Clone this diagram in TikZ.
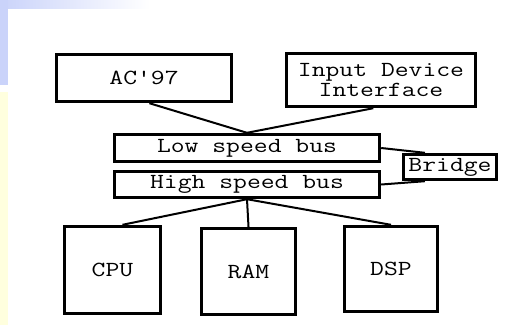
\documentclass[tikz,border=0pt]{standalone}
\usepackage{graphicx}
\usetikzlibrary{calc}
\definecolor{bgblue}{HTML}{CAD3FA}
\definecolor{bgyellow}{HTML}{FFFFDE}
\newcommand{\widetxt}[1]{\scalebox{1.25}[1]{#1}}
\begin{document}
\begin{tikzpicture}[x=1pt,y=-1pt,
  box/.style={draw=black,line width=3.4pt,rectangle,inner sep=0pt,
    font=\ttfamily\fontsize{21.5}{20}\selectfont,align=center},
  link/.style={draw=black,line width=2pt}]
\useasboundingbox (0,0) rectangle (508,325);
% background
\fill[white] (0,0) rectangle (508,325);
\shade[left color=bgblue,right color=white] (0,0) rectangle (150,8);
\fill[bgblue] (0,0) rectangle (8,85);
\fill[bgyellow] (0,92) rectangle (8,325);
\fill[white] (8,9) rectangle (508,325);
% nodes
\node[box,minimum width=175pt,minimum height=47pt] (ac) at (144,78) {\widetxt{AC'97}};
\node[box,minimum width=189pt,minimum height=53pt] (inp) at (381,80) {\widetxt{Input Device}\\\widetxt{Interface}};
\node[box,minimum width=265pt,minimum height=27pt] (low) at (247,148) {\widetxt{Low speed bus}};
\node[box,minimum width=265pt,minimum height=26pt] (high) at (247,184.5) {\widetxt{High speed bus}};
\node[box,minimum width=93pt,minimum height=25pt] (br) at (450,167) {\widetxt{Bridge}};
\node[box,minimum width=96pt,minimum height=87pt] (cpu) at (112.5,270) {\widetxt{CPU}};
\node[box,minimum width=94pt,minimum height=86pt] (ram) at (248.5,271.5) {\widetxt{RAM}};
\node[box,minimum width=93pt,minimum height=85pt] (dsp) at (391,269) {\widetxt{DSP}};
% connectors
\draw[link] ($(ac.south west)!0.53!(ac.south east)$) -- (low.north);
\draw[link] ($(inp.south west)!0.46!(inp.south east)$) -- (low.north);
\draw[link] (low.east) -- ($(br.north west)!0.24!(br.north east)$);
\draw[link] (high.east) -- ($(br.south west)!0.24!(br.south east)$);
\draw[link] (high.south) -- ($(cpu.north west)!0.6!(cpu.north east)$);
\draw[link] (high.south) -- (ram.north);
\draw[link] (high.south) -- (dsp.north);
\end{tikzpicture}
\end{document}
